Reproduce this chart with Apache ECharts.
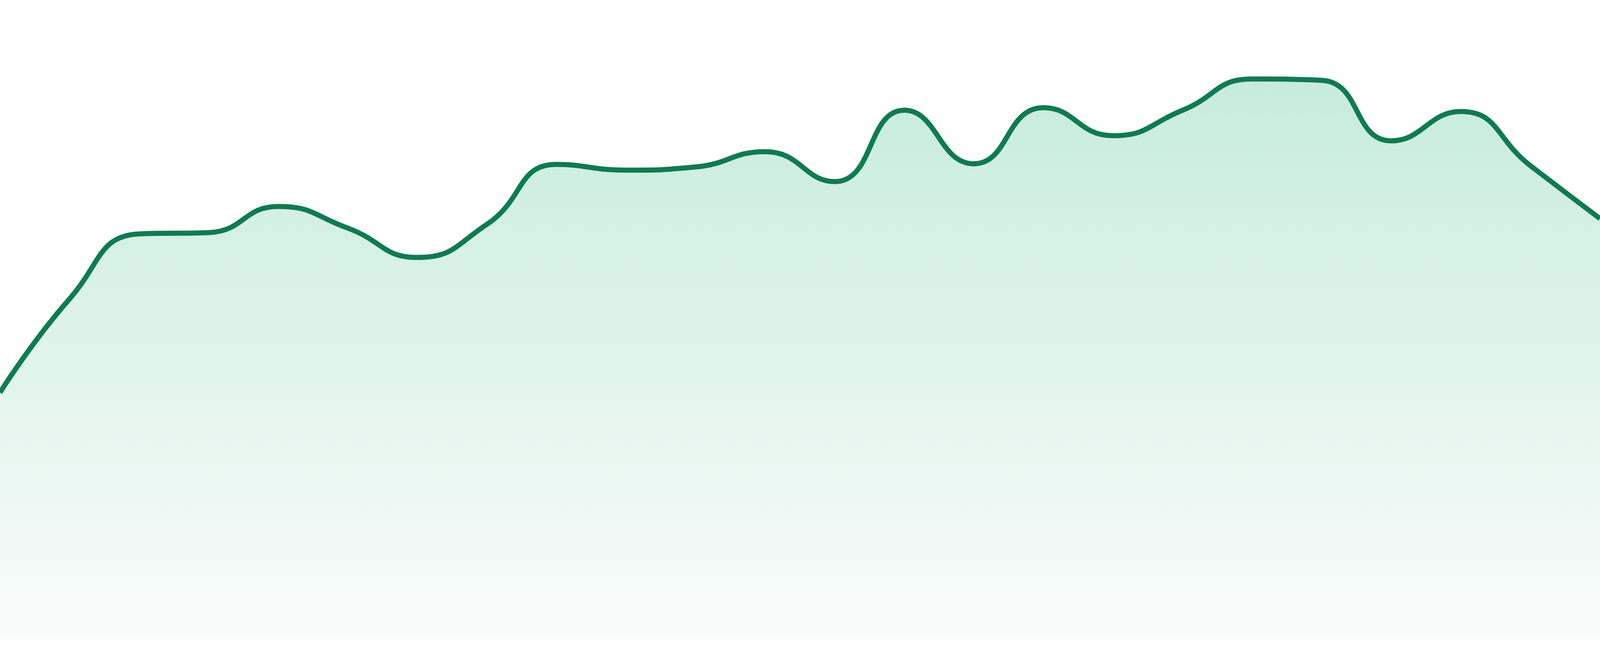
<!DOCTYPE html>
<html>
<head>
<meta charset="utf-8">
<script src="https://cdn.jsdelivr.net/npm/echarts@6/dist/echarts.min.js"></script>
<style>
html,body{margin:0;padding:0;background:#ffffff;width:100%;height:100%;overflow:hidden;}
#chart{width:100vw;height:100vh;}
</style>
</head>
<body>
<div id="chart"></div>
<script>
const categories = ['1','2','3','4','5','6','7','8','9','10','11','12','13','14','15','16','17','18','19','20','21','22','23','24'];
const values = [38.4, 53.1, 63.3, 63.5, 67.6, 64.2, 59.6, 64.8, 74.2, 73.3, 73.8, 76.2, 71.5, 82.7, 74.3, 83.1, 78.7, 82.7, 87.6, 87.4, 77.9, 82.5, 74.0, 65.7];

const chart = echarts.init(document.getElementById('chart'));
chart.setOption({
  animation: false,
  backgroundColor: '#ffffff',
  grid: { left: 0, right: 0, top: 0, bottom: '2.857%', containLabel: false },
  xAxis: {
    type: 'category',
    data: categories,
    boundaryGap: false,
    show: false
  },
  yAxis: {
    type: 'value',
    min: 0,
    max: 100,
    show: false,
    splitLine: { show: false }
  },
  series: [{
    type: 'line',
    data: values,
    smooth: true,
    symbol: 'none',
    lineStyle: { color: '#117a50', width: 13 },
    areaStyle: {
      color: {
        type: 'linear', x: 0, y: 0, x2: 0, y2: 1,
        colorStops: [
          { offset: 0, color: '#aee4cc' },
          { offset: 1, color: '#f7fbfa' }
        ]
      }
    }
  }]
});
window.addEventListener('resize', function(){ chart.resize(); });
</script>
</body>
</html>
